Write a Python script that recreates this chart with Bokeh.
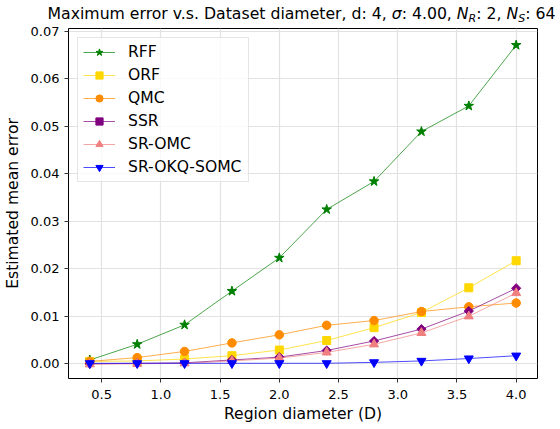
import math
from bokeh.plotting import figure
from bokeh.layouts import column
from bokeh.models import Div, FixedTicker, Legend, LegendItem, NumeralTickFormatter, Range1d
from bokeh.embed import file_html
from bokeh.resources import INLINE

# ---- data ----
diameters = [0.4, 0.8, 1.2, 1.6, 2.0, 2.4, 2.8, 3.2, 3.6, 4.0]
rff = [0.0008, 0.0041, 0.0082, 0.0153, 0.0223, 0.0325, 0.0384, 0.0489, 0.0543, 0.0671]
orf = [0.0005, 0.0006, 0.0010, 0.0017, 0.0029, 0.0049, 0.0076, 0.0108, 0.0160, 0.0217]
qmc = [0.0005, 0.0013, 0.0026, 0.0044, 0.0061, 0.0081, 0.0091, 0.0110, 0.0120, 0.0128]
ssr = [0.0000, 0.0001, 0.0002, 0.0008, 0.0014, 0.0028, 0.0048, 0.0073, 0.0111, 0.0159]
sr_omc = [-0.0001, 0.0000, 0.0001, 0.0006, 0.0012, 0.0024, 0.0041, 0.0065, 0.0100, 0.0149]
sr_okq_somc = [0.0001, 0.0001, 0.0001, 0.0001, 0.0001, 0.0001, 0.0003, 0.0006, 0.0011, 0.0017]

series_names = ["RFF", "ORF", "QMC", "SSR", "SR-OMC", "SR-OKQ-SOMC"]
series_values = [rff, orf, qmc, ssr, sr_omc, sr_okq_somc]
series_colors = ["#008000", "#FFD700", "#FF8C00", "#800080", "#F08080", "#0000FF"]
series_markers = ["star", "square", "circle", "square", "triangle", "inverted_triangle"]
series_sizes = [10, 8, 8.5, 6.5, 9, 9]
series_angles = [0, 0, 0, math.pi / 4, 0, 0]

x_ticks = [0.5, 1.0, 1.5, 2.0, 2.5, 3.0, 3.5, 4.0]
y_ticks = [0.00, 0.01, 0.02, 0.03, 0.04, 0.05, 0.06, 0.07]

FONT = "DejaVu Sans"
W = 560
H_TITLE = 24
H_MAIN = 429 - H_TITLE

# ---- title (HTML, so that sigma / N_R / N_S can be italic with subscripts) ----
sub = "font-style:italic;font-size:70%;position:relative;top:0.28em;"
title_html = (
    f"<div style=\"box-sizing:border-box;width:{W}px;padding-left:43px;padding-top:4px;text-align:center;"
    f"font-family:'DejaVu Sans';font-size:15.7px;line-height:19px;color:black;white-space:nowrap;\">"
    "Maximum error v.s. Dataset diameter, d: 4, <i>\u03c3</i>: 4.00, "
    f"<i>N</i><span style=\"{sub}\">R</span>: 2, "
    f"<i>N</i><span style=\"{sub}\">S</span>: 64"
    "</div>"
)
title_div = Div(text=title_html, width=W, height=H_TITLE, margin=(0, 0, 0, 0))

# ---- main plot ----
p = figure(width=W, height=H_MAIN, output_backend="svg", toolbar_location=None,
           x_range=Range1d(0.22, 4.18), y_range=Range1d(-0.0031, 0.0706),
           min_border_left=67, min_border_right=23, min_border_top=4, min_border_bottom=51)

p.outline_line_color = "black"
p.outline_line_width = 1
p.background_fill_color = "white"
p.border_fill_color = "white"

for ax in (p.xaxis[0], p.yaxis[0]):
    ax.axis_line_color = None
    ax.major_tick_out = 4
    ax.major_tick_in = 0
    ax.minor_tick_out = 0
    ax.minor_tick_in = 0
    ax.major_tick_line_color = "black"
    ax.major_tick_line_width = 0.8
    ax.major_label_text_font = FONT
    ax.major_label_text_font_size = "13px"
    ax.major_label_text_color = "black"
    ax.axis_label_text_font = FONT
    ax.axis_label_text_font_size = "15.6px"
    ax.axis_label_text_font_style = "normal"
    ax.axis_label_text_color = "black"

p.xaxis[0].ticker = FixedTicker(ticks=x_ticks)
p.yaxis[0].ticker = FixedTicker(ticks=y_ticks)
p.xaxis[0].formatter = NumeralTickFormatter(format="0.0")
p.yaxis[0].formatter = NumeralTickFormatter(format="0.00")
p.xaxis[0].axis_label = "Region diameter (D)"
p.yaxis[0].axis_label = "Estimated mean error"
p.xaxis[0].major_label_standoff = 7
p.yaxis[0].major_label_standoff = 5
p.xaxis[0].axis_label_standoff = 3
p.yaxis[0].axis_label_standoff = 6

p.xgrid.ticker = FixedTicker(ticks=x_ticks)
p.ygrid.ticker = FixedTicker(ticks=y_ticks)
p.grid.grid_line_color = "#e2e2e2"
p.grid.grid_line_width = 1.2

items = []
for name, vals, col, mk, sz, ang in zip(series_names, series_values, series_colors,
                                        series_markers, series_sizes, series_angles):
    ln = p.line(diameters, vals, line_color=col, line_width=1.0, line_alpha=0.7)
    sc = p.scatter(diameters, vals, marker=mk, size=sz, angle=ang, fill_color=col, line_color=col)
    items.append(LegendItem(label=name, renderers=[ln, sc]))

legend = Legend(items=items, location="top_left")
legend.margin = 9
legend.padding = 5
legend.spacing = 5
legend.glyph_width = 32
legend.glyph_height = 18
legend.label_height = 18
legend.label_width = 115
legend.label_standoff = 13
legend.label_text_font = FONT
legend.label_text_font_size = "15.6px"
legend.label_text_color = "black"
legend.border_line_color = "#cccccc"
legend.border_line_width = 1
legend.background_fill_alpha = 0.8
p.add_layout(legend, "center")

layout = column(title_div, p, spacing=0)
open("out.html", "w").write(file_html(layout, INLINE))
